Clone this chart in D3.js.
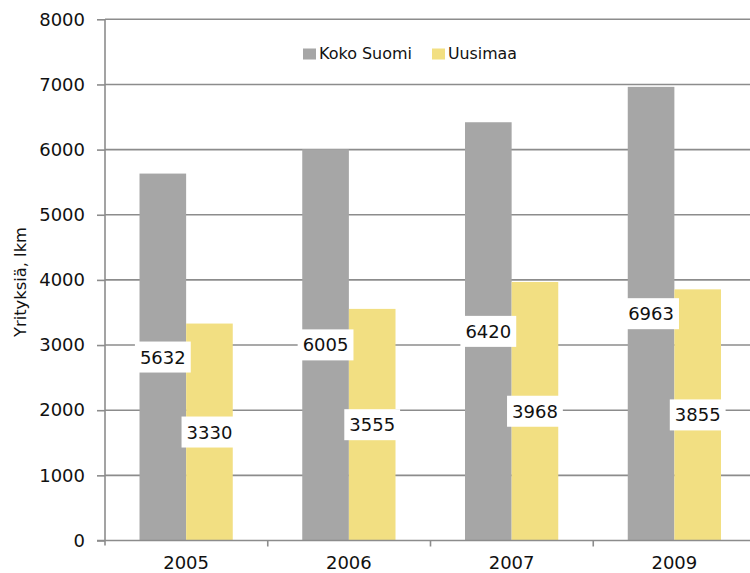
<!DOCTYPE html>
<html>
<head>
<meta charset="utf-8">
<script src="https://cdn.jsdelivr.net/npm/d3@7"></script>
<style>
  html, body { margin: 0; padding: 0; background: #fff; }
  svg { display: block; font-family: "DejaVu Sans", Verdana, sans-serif; }
</style>
</head>
<body>
<svg id="chart" width="750" height="573"></svg>
<script>
const categories = ["2005", "2006", "2007", "2009"];
const seriesNames = ["Koko Suomi", "Uusimaa"];
const kokoSuomi = [5632, 6005, 6420, 6963];
const uusimaa = [3330, 3555, 3968, 3855];
const yTicks = [0, 1000, 2000, 3000, 4000, 5000, 6000, 7000, 8000];
const colors = ["#a6a6a6", "#f2df82"];
const yTitle = "Yrityksiä, lkm";

(function () {
const seriesValues = [kokoSuomi, uusimaa];
const data = categories.map((c, i) => ({
  cat: c,
  vals: seriesNames.map((s, j) => ({ series: s, j, value: seriesValues[j][i] }))
}));

const svg = d3.select("#chart");
const mLeft = 105, mRight = 756, mTop = 19.3, mBottom = 540.5;

const x0 = d3.scaleBand().domain(categories).range([mLeft, mRight]).padding(0);
const bw = x0.bandwidth();
const x1 = d3.scaleBand().domain(seriesNames).range([bw * 0.212, bw * 0.785]).padding(0);
const y = d3.scaleLinear().domain([0, 8000]).range([mBottom, mTop]);

const gridColor = "#8c8c8c";

// gridlines
svg.append("g")
  .selectAll("line")
  .data(yTicks.filter(t => t > 0))
  .join("line")
  .attr("x1", mLeft).attr("x2", 750)
  .attr("y1", d => y(d)).attr("y2", d => y(d))
  .attr("stroke", gridColor).attr("stroke-width", 1.6);

// y axis
const yAxis = d3.axisLeft(y).tickValues(yTicks).tickSize(8).tickPadding(12).tickFormat(d3.format("d"));
const gy = svg.append("g").attr("transform", `translate(${mLeft},0)`).call(yAxis);
gy.select(".domain").attr("stroke", gridColor).attr("stroke-width", 1.6)
  .attr("d", `M0,${mTop}V${mBottom + 5}`);
gy.selectAll(".tick line").attr("stroke", gridColor).attr("stroke-width", 1.6);
gy.selectAll(".tick text").attr("font-size", 18).attr("fill", "#111")
  .attr("font-family", "DejaVu Sans, sans-serif");

// bars
const groups = svg.append("g").selectAll("g")
  .data(data).join("g")
  .attr("transform", d => `translate(${x0(d.cat)},0)`);

groups.selectAll("rect")
  .data(d => d.vals)
  .join("rect")
  .attr("x", d => x1(d.series))
  .attr("width", x1.bandwidth())
  .attr("y", d => y(d.value))
  .attr("height", d => y(0) - y(d.value))
  .attr("fill", d => colors[d.j]);

// x axis
svg.append("line")
  .attr("x1", mLeft - 8).attr("x2", 750)
  .attr("y1", mBottom).attr("y2", mBottom)
  .attr("stroke", gridColor).attr("stroke-width", 1.6);
const boundaries = categories.slice(1).map(c => x0(c));
svg.append("g").selectAll("line").data(boundaries).join("line")
  .attr("x1", d => d).attr("x2", d => d)
  .attr("y1", mBottom).attr("y2", mBottom + 6)
  .attr("stroke", gridColor).attr("stroke-width", 1.6);

svg.append("g").selectAll("text").data(categories).join("text")
  .attr("x", d => x0(d) + x1("Uusimaa"))
  .attr("y", 569)
  .attr("text-anchor", "middle")
  .attr("font-size", 18).attr("fill", "#111")
  .text(d => d);

// value labels
const labelFont = 18;
groups.each(function(d) {
  const g = d3.select(this);
  d.vals.forEach(v => {
    const cx = x1(v.series) + x1.bandwidth() / 2;
    const cy = y(v.value / 2);
    const t = g.append("text")
      .attr("x", cx).attr("y", cy)
      .attr("text-anchor", "middle")
      .attr("dominant-baseline", "central")
      .attr("font-size", labelFont).attr("fill", "#111")
      .text(v.value);
    const w = t.node().getComputedTextLength();
    g.insert("rect", () => t.node())
      .attr("x", cx - w / 2 - 5).attr("y", cy - 15.5)
      .attr("width", w + 10).attr("height", 31)
      .attr("fill", "#fff");
  });
});

// legend
const legend = svg.append("g");
const legendItems = [
  { name: seriesNames[0], color: colors[0], x: 303, len: 93 },
  { name: seriesNames[1], color: colors[1], x: 432, len: 69 }
];
legendItems.forEach(it => {
  legend.append("rect").attr("x", it.x).attr("y", 48.5).attr("width", 13).attr("height", 11).attr("fill", it.color);
  legend.append("text").attr("x", it.x + 16).attr("y", 58.5)
    .attr("font-size", 16)
    .attr("textLength", it.len).attr("lengthAdjust", "spacingAndGlyphs")
    .attr("fill", "#111").text(it.name);
});

// y title
svg.append("text")
  .attr("transform", "translate(25.5,282) rotate(-90)")
  .attr("text-anchor", "middle")
  .attr("font-size", 15.5)
  .attr("textLength", 110).attr("lengthAdjust", "spacingAndGlyphs")
  .attr("fill", "#111")
  .text(yTitle);
})();
</script>
</body>
</html>
